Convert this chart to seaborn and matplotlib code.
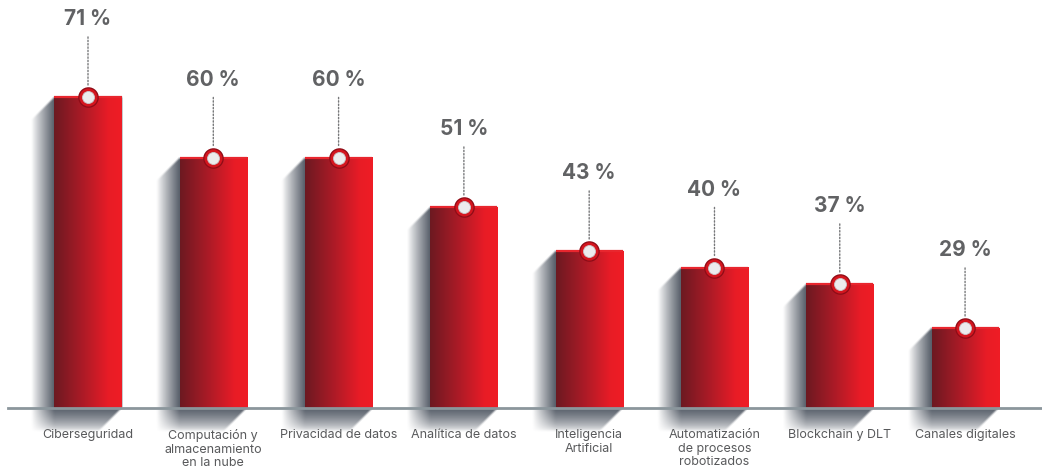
import numpy as np
import matplotlib
matplotlib.use("Agg")
import matplotlib.pyplot as plt
import seaborn as sns
from matplotlib.colors import LinearSegmentedColormap
from matplotlib.path import Path

# ---- data -------------------------------------------------------------
categories = [
    "Ciberseguridad",
    "Computación y\nalmacenamiento\nen la nube",
    "Privacidad de datos",
    "Analítica de datos",
    "Inteligencia\nArtificial",
    "Automatización\nde procesos\nrobotizados",
    "Blockchain y DLT",
    "Canales digitales",
]
values = [71, 60, 60, 51, 43, 40, 37, 29]
value_labels = ["71 %", "60 %", "60 %", "51 %", "43 %", "40 %", "37 %", "29 %"]

# ---- style ------------------------------------------------------------
sns.set_theme(style="white")
plt.rcParams["font.family"] = ["Inter", "DejaVu Sans"]

W, H = 1042, 470
fig = plt.figure(figsize=(W / 100, H / 100), dpi=100)

# layer for the soft drop shadows, in pixel coordinates
sh_ax = fig.add_axes([0, 0, 1, 1], zorder=0)
sh_ax.set_xlim(0, W)
sh_ax.set_ylim(0, H)
sh_ax.axis("off")

# main chart
ax = fig.add_axes([8 / W, 62 / H, 1 - 8 / W, 1 - 62 / H], zorder=1)
ax.patch.set_alpha(0)
sns.barplot(x=categories, y=values, width=0.535, color="#ec1c24",
            saturation=1, linewidth=0, ax=ax)

y_floor = 14.5
xlim = (-0.6385, 7.614)
ylim = (y_floor, y_floor + 408 / 5.5)
ax.set_xlim(*xlim)
ax.set_ylim(*ylim)

for s in ["top", "right", "left"]:
    ax.spines[s].set_visible(False)
ax.spines["bottom"].set_color("#8b969c")
ax.spines["bottom"].set_linewidth(2)
ax.spines["bottom"].set_zorder(4)
ax.set_yticks([])
ax.set_xlabel("")
ax.set_ylabel("")
ax.tick_params(axis="x", length=0, pad=15, labelsize=9, labelcolor="#58595b")

# horizontal red gradient on every bar, with a light top edge
bar_cmap = LinearSegmentedColormap.from_list(
    "bar", [(0.0, "#6c1921"), (0.45, "#b01b27"), (0.8, "#e81c26"), (1.0, "#ef1d25")]
)
grad = np.linspace(0, 1, 256).reshape(1, -1)
bars = list(ax.patches)
for p in bars:
    x0, w, h = p.get_x(), p.get_width(), p.get_height()
    ax.imshow(grad, cmap=bar_cmap, extent=(x0, x0 + w, 0, h), aspect="auto",
              origin="lower", clip_path=p, zorder=p.get_zorder() + 0.1,
              interpolation="bilinear")
    ax.plot([x0, x0 + w], [h, h], color="#e8262e", lw=1.6,
            solid_capstyle="butt", zorder=p.get_zorder() + 0.2)
ax.set_xlim(*xlim)
ax.set_ylim(*ylim)

# soft extruded shadow to the lower-left of each bar
d = 23
shadow_rgb = np.array([0.28, 0.31, 0.36])
for p in bars:
    x0, w, h = p.get_x(), p.get_width(), p.get_height()
    (xL, yT) = ax.transData.transform((x0, h))
    (xR, yB) = ax.transData.transform((x0 + w, y_floor))
    gx0, gx1 = int(xL - d - 8), int(xR + 4)
    gy0, gy1 = int(yB - d - 8), int(yT + 4)
    xs = np.arange(gx0, gx1) + 0.5
    ys = np.arange(gy0, gy1) + 0.5
    XX, YY = np.meshgrid(xs, ys)
    poly = Path([(xL, yT), (xL - d, yT - d), (xL - d, yB - d),
                 (xR - d, yB - d), (xR, yB), (xR, yT), (xL, yT)])
    inside = poly.contains_points(np.c_[XX.ravel(), YY.ravel()]).reshape(XX.shape)
    hfac = np.where(XX < xL, np.clip((XX - (xL - d)) / d, 0, 1), 1.0) ** 0.9
    vfac = np.where(YY < yB, np.clip((YY - (yB - d)) / d, 0, 1), 1.0) ** 0.6
    a = inside * hfac * vfac
    # light blur so the edges stay soft
    k = np.ones(3) / 3
    a = np.apply_along_axis(lambda r: np.convolve(r, k, mode="same"), 1, a)
    a = np.apply_along_axis(lambda c: np.convolve(c, k, mode="same"), 0, a)
    rgba = np.zeros(a.shape + (4,))
    rgba[..., :3] = shadow_rgb
    rgba[..., 3] = np.clip(a * 0.92, 0, 1)
    sh_ax.imshow(rgba, extent=(gx0, gx1, gy0, gy1), origin="lower",
                 aspect="auto", interpolation="bilinear")
sh_ax.set_xlim(0, W)
sh_ax.set_ylim(0, H)

# markers at bar tops with dotted leaders to the value labels
xpos = np.arange(len(values))
ax.scatter(xpos, values, s=14.8 ** 2, color="#8e0c17", zorder=5, clip_on=False, linewidths=0)
ax.scatter(xpos, values, s=13.0 ** 2, color="#d4161f", zorder=6, clip_on=False, linewidths=0)
ax.scatter(xpos, values, s=8.6 ** 2, color="#ececed", edgecolors="#c9c9cb",
           linewidths=0.6, zorder=7, clip_on=False)

for xi, v, lab in zip(xpos, values, value_labels):
    ax.annotate(lab, xy=(xi, v), xytext=(0, 56), textcoords="offset points",
                ha="center", va="center", fontsize=15, fontweight="bold",
                color="#616264", annotation_clip=False, zorder=8,
                arrowprops=dict(arrowstyle="-", color="#77787a", lw=1.0,
                                linestyle=(0, (1, 1.4)), shrinkA=3, shrinkB=7.5))

fig.savefig("out.png", dpi=100)
